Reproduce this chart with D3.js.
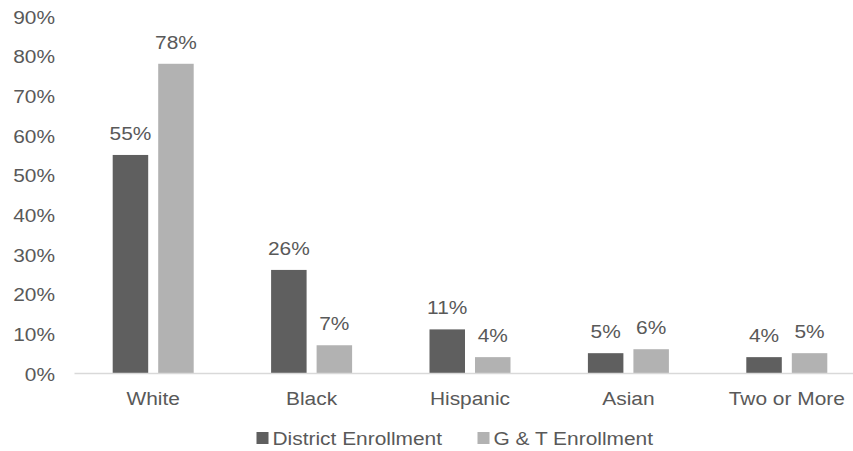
<!DOCTYPE html>
<html>
<head>
<meta charset="utf-8">
<script src="https://cdn.jsdelivr.net/npm/d3@7"></script>
<style>
  html, body { margin: 0; padding: 0; background: #fff; }
  svg { display: block; font-family: "Liberation Sans", Arial, sans-serif; }
</style>
</head>
<body>
<svg id="chart" width="853" height="451"></svg>
<script>
// ---- data ----
const categories = ["White", "Black", "Hispanic", "Asian", "Two or More"];
const seriesNames = ["District Enrollment", "G & T Enrollment"];
const districtValues = [0.55, 0.26, 0.11, 0.05, 0.04];
const gtValues = [0.78, 0.07, 0.04, 0.06, 0.05];
const yTicks = [0, 0.1, 0.2, 0.3, 0.4, 0.5, 0.6, 0.7, 0.8, 0.9];

// ---- style ----
const colors = ["#5f5f5f", "#b2b2b2"];
const textColor = "#595959";
const fontSize = 19;
const sx = 1.1; // horizontal text stretch seen in reference

const svg = d3.select("#chart");
const x0 = d3.scaleBand().domain(categories).range([74, 866]).paddingInner(0).paddingOuter(0);
const x1 = d3.scaleBand().domain(seriesNames).range([-40.5, 40.5]).paddingInner(0.22).paddingOuter(0);
const y = d3.scaleLinear().domain([0, 0.9]).range([373, 16.2]);
const color = d3.scaleOrdinal().domain(seriesNames).range(colors);
const fmt = d3.format(".0%");

const rows = categories.map((c, i) => ({cat: c, vals: [
  {s: seriesNames[0], v: districtValues[i]},
  {s: seriesNames[1], v: gtValues[i]}
]}));

function stretchedText(sel, x, y, txt, anchor) {
  return sel.append("text")
    .attr("transform", `translate(${x},${y}) scale(${sx},1)`)
    .attr("text-anchor", anchor)
    .attr("fill", textColor)
    .attr("font-size", fontSize)
    .text(txt);
}

// y tick labels (no axis line, no gridlines)
const yAxis = d3.axisLeft(y).tickValues(yTicks).tickFormat(fmt).tickSize(0).tickPadding(0);
const yg = svg.append("g").attr("transform", "translate(55,0)").call(yAxis);
yg.select(".domain").remove();
yg.selectAll(".tick text").remove();
yg.selectAll(".tick").each(function(d) {
  stretchedText(d3.select(this), 0, 7, fmt(d), "end");
});

// bars
const groups = svg.append("g").selectAll("g").data(rows).join("g")
  .attr("transform", d => `translate(${x0(d.cat) + x0.bandwidth() / 2},0)`);
groups.selectAll("rect").data(d => d.vals).join("rect")
  .attr("x", d => x1(d.s))
  .attr("width", x1.bandwidth())
  .attr("y", d => y(d.v))
  .attr("height", d => y(0) - y(d.v))
  .attr("fill", d => color(d.s));
groups.each(function(d) {
  const g = d3.select(this);
  d.vals.forEach(v => {
    stretchedText(g, x1(v.s) + x1.bandwidth() / 2, y(v.v) - 15, fmt(v.v), "middle");
  });
});

// x axis
const xAxis = d3.axisBottom(x0).tickSize(0).tickPadding(0);
const xg = svg.append("g").attr("transform", `translate(0,${y(0)})`).call(xAxis);
xg.select(".domain").attr("stroke", "#d9d9d9").attr("stroke-width", 1.5);
xg.selectAll(".tick text").remove();
xg.selectAll(".tick").each(function(d) {
  stretchedText(d3.select(this), 0, 32, d, "middle");
});

// legend
const legendX = [256.5, 477.5];
const legend = svg.append("g");
seriesNames.forEach((s, i) => {
  legend.append("rect")
    .attr("x", legendX[i]).attr("y", 432)
    .attr("width", 12).attr("height", 12)
    .attr("fill", color(s));
  stretchedText(legend, legendX[i] + 16, 445, s, "start");
});
</script>
</body>
</html>
